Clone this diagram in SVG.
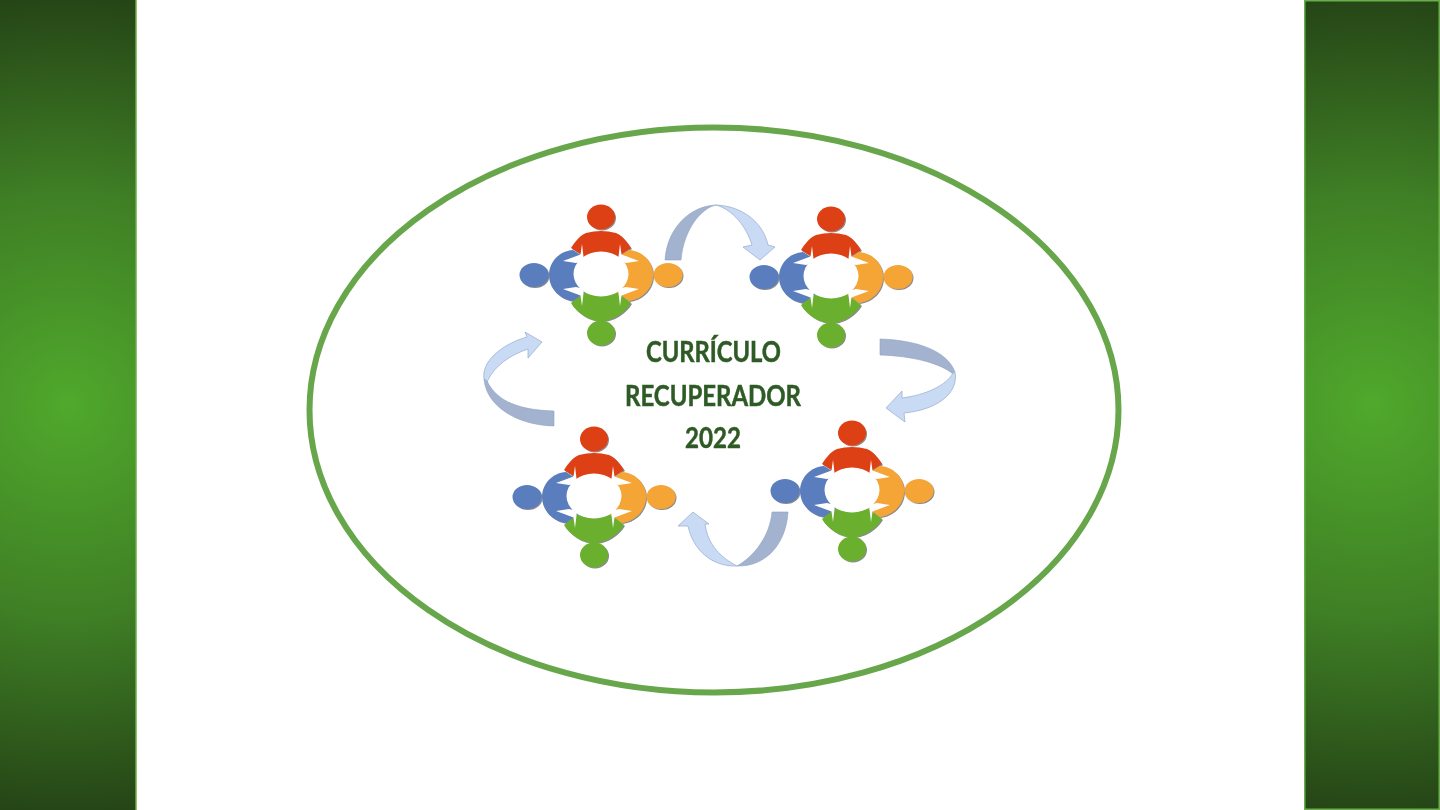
<svg xmlns="http://www.w3.org/2000/svg" xmlns:xlink="http://www.w3.org/1999/xlink" width="1440" height="810" viewBox="0 0 1440 810">
<style>
.title{font-family:Lato,"Liberation Sans",Arial,sans-serif;font-weight:700;font-size:28.5px;fill:#2f5a26;stroke:#2f5a26;stroke-width:.5}
.dark{fill:#a3b3cf;stroke:#8fa3c4;stroke-width:.6}
.light{fill:#c9daf5;stroke:#9db2d2;stroke-width:.8}
</style>
<defs>
<radialGradient id="side" cx="68" cy="405" r="425" gradientUnits="userSpaceOnUse">
<stop offset="0" stop-color="#50a92c"/>
<stop offset=".5" stop-color="#3f7f25"/>
<stop offset="1" stop-color="#234015"/>
</radialGradient>
<radialGradient id="side2" cx="1372" cy="405" r="425" gradientUnits="userSpaceOnUse">
<stop offset="0" stop-color="#50a92c"/>
<stop offset=".5" stop-color="#3f7f25"/>
<stop offset="1" stop-color="#234015"/>
</radialGradient>
<filter id="soft" x="-10%" y="-10%" width="120%" height="120%"><feGaussianBlur stdDeviation=".55"/></filter>
<filter id="shad" x="-10%" y="-10%" width="125%" height="125%">
<feGaussianBlur in="SourceAlpha" stdDeviation=".7" result="b"/><feOffset in="b" dx=".8" dy=".8" result="o"/>
<feFlood flood-color="#555" flood-opacity=".7"/><feComposite in2="o" operator="in" result="s"/>
<feGaussianBlur in="SourceGraphic" stdDeviation=".5" result="g"/>
<feMerge><feMergeNode in="s"/><feMergeNode in="g"/></feMerge>
</filter>
<path id="notch" d="M-19,-31L-20.5,-20.5L-38,-14L-25,-12L-17,-14Z" fill="#fff"/>
<g id="people">
<g filter="url(#shad)">
<ellipse cx="0" cy="-58" rx="14" ry="12.5" fill="#de4012"/>
<ellipse cx="-67" cy="0" rx="14.5" ry="12" fill="#5a7dbd"/>
<ellipse cx="67" cy="0" rx="14.5" ry="12" fill="#f4a536"/>
<ellipse cx="0" cy="58" rx="14" ry="12.5" fill="#6bb02e"/>
<path d="M-30,-27C-26,-33-22,-39-15,-42Q0,-46 15,-42C22,-39 26,-33 30,-27L19,-20L17,-10H-17L-19,-20Z" fill="#de4012"/>
<path d="M-30,28C-24,38-12,46 0,46S24,38 30,28L19,19L17,8H-17L-19,19Z" fill="#6bb02e"/>
<path d="M-28,-25C-42,-24-52,-13-52,0S-42,24-28,26L-14,16V-16Z" fill="#5a7dbd"/>
<path d="M28,-25C42,-24 52,-13 52,0S42,24 28,26L14,16V-16Z" fill="#f4a536"/>
</g>
<g filter="url(#soft)">
<ellipse cx="0" cy="-1" rx="27.5" ry="22.5" fill="#fff"/>
<use href="#notch" xlink:href="#notch"/>
<use href="#notch" xlink:href="#notch" transform="scale(-1 1)"/>
<use href="#notch" xlink:href="#notch" transform="scale(1 -1)"/>
<use href="#notch" xlink:href="#notch" transform="scale(-1 -1)"/>
</g>
</g>
</defs>
<rect width="1440" height="810" fill="#fff"/>
<g id="left-band"><rect x="-3" y="-3" width="139" height="816" fill="url(#side)" stroke="#6aae4a" stroke-width="1.5"/></g>
<g id="right-band"><rect x="1304.75" y=".75" width="134.5" height="808.5" fill="url(#side2)" stroke="#6aae4a" stroke-width="1.5"/></g>
<g id="ring"><ellipse cx="714" cy="410" rx="404.5" ry="282.5" fill="#fff" stroke="#68a64c" stroke-width="6"/></g>
<g id="connectors" filter="url(#soft)">
<path class="dark" d="M665,260C667,228 690,206 716,205C702,208 684,228 681,260Z"/>
<path class="light" d="M716,205C742,206 763,222 768,245L775,247L760,260L743,247L752,245C746,226 733,210 716,205Z"/>
<path class="dark" d="M880,339C915,340 947,350 955,372L953,374C940,363 912,356 880,355Z"/>
<path class="light" d="M955,372C959,394 936,410 904,413L905,422L886,408L902,391V398C925,395 946,386 953,373Z"/>
<path class="dark" d="M772,512C770,535 755,556 737,566C765,567 786,545 788,512Z"/>
<path class="light" d="M737,566C722,558 708,546 705,524L709,524L693,512L678,526L688,526C693,550 712,567 737,566Z"/>
<path class="light" d="M527,337L525,332L542,342L528,358V349C510,355 494,366 487,382L484,379C481,360 505,343 527,337Z"/>
<path class="dark" d="M484,379C486,405 515,425 554,426V411C520,410 497,402 487,381Z"/>
</g>
<g id="node-top-left"><use href="#people" xlink:href="#people" transform="translate(601 275)"/></g>
<g id="node-top-right"><use href="#people" xlink:href="#people" transform="translate(831 277)"/></g>
<g id="node-bottom-left"><use href="#people" xlink:href="#people" transform="translate(594 497)"/></g>
<g id="node-bottom-right"><use href="#people" xlink:href="#people" transform="translate(852 491)"/></g>
<g id="title" filter="url(#soft)">
<text class="title" x="646" y="362" textLength="135" lengthAdjust="spacingAndGlyphs">CURRÍCULO</text>
<text class="title" x="625" y="406" textLength="176" lengthAdjust="spacingAndGlyphs">RECUPERADOR</text>
<text class="title" x="685" y="448" textLength="56" lengthAdjust="spacingAndGlyphs">2022</text>
</g>
</svg>
